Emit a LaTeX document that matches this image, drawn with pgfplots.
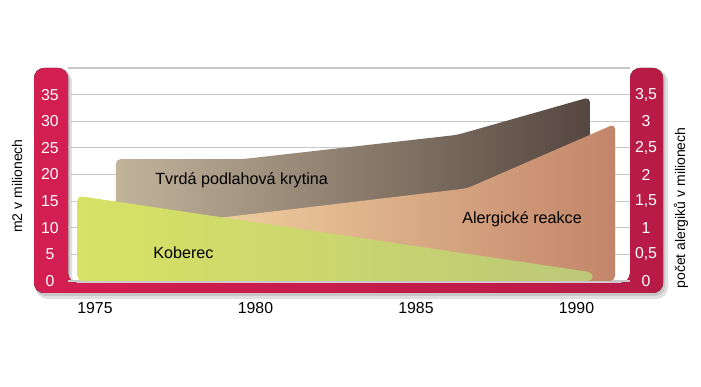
\documentclass[border=0pt]{standalone}
\usepackage{pgfplots}
\pgfplotsset{compat=1.18}
\usepackage{pgfplotstable}
\usepackage{fontspec}
\setmainfont{Liberation Sans}
\definecolor{crimL}{HTML}{D31E51}
\definecolor{crimR}{HTML}{B71B45}
\definecolor{brL}{HTML}{C2B39B}
\definecolor{brR}{HTML}{554740}
\definecolor{peL}{HTML}{FAE2AC}
\definecolor{peR}{HTML}{C3856A}
\definecolor{grL}{HTML}{D7E364}
\definecolor{grR}{HTML}{BCC878}

% Tvrda podlahova krytina (m2 in millions)
\pgfplotstableread{
year val
1975.65 0
1975.65 22.9
1979.61 22.9
1986.28 27.44
1990.42 34.53
1990.42 0
}\brown
% Alergicke reakce (millions of allergics)
\pgfplotstableread{
year val
1975.5 0
1975.5 0.94
1979.21 1.21
1986.59 1.74
1991.20 2.95
1991.20 0
}\peach
% Koberec (m2 in millions)
\pgfplotstableread{
year val
1974.45 0
1974.45 16.0
1990.51 1.6
1990.51 0
}\green

\pgfplotsset{base/.style={
  at={(40.8pt,-168.6pt)}, anchor=south west,
  width=337.2pt, height=127.8pt, scale only axis,
  xmin=1974.159, xmax=1991.667,
  axis line style={draw=none}, tick style={draw=none},
  clip=false}}

\begin{document}
\begin{tikzpicture}
\begin{scope}[x=0.6pt,y=-0.6pt]
\useasboundingbox (0,0) rectangle (701,387);
\fill[black!12, rounded corners=7] (36,70) -- (36,299) -- (668,299) -- (668,70) -- (633,70) -- (633,287) -- (72,287) -- (72,70) -- cycle;
\fill[black!22, rounded corners=6] (35,69) -- (35,296) -- (665,296) -- (665,69) -- (631,69) -- (631,285) -- (70,285) -- (70,69) -- cycle;
\fill[left color=crimL, right color=crimR, rounded corners=6] (34,68) -- (34,293) -- (663,293) -- (663,68) -- (630,68) -- (630,283) -- (68,283) -- (68,68) -- cycle;
\node[rotate=90, font=\fontsize{8.4}{10}\selectfont] at (17,186) {m2 v milionech};
\node[rotate=90, font=\fontsize{8.4}{10}\selectfont] at (681,208) {počet alergiků v milionech};
\end{scope}

\begin{axis}[base, ymin=0, ymax=40,
  ymajorgrids, grid style={black!22, line width=0.7pt},
  ytick={0,5,...,40}, yticklabels={0,5,10,15,20,25,30,35,{}},
  yticklabel style={anchor=center, xshift=-10.8pt, text=white, font=\fontsize{9.5}{11}\selectfont},
  xtick={1975,1980,1985,1990}, xticklabels={1975,1980,1985,1990},
  xticklabel style={anchor=center, yshift=-16.5pt, font=\fontsize{9.5}{11}\selectfont}]
\addplot[draw=none, left color=brL, right color=brR, rounded corners=3pt] table[x=year,y=val] {\brown} -- cycle;
\end{axis}

\begin{axis}[base, ymin=0, ymax=4, xtick=\empty,
  ytick={0,0.5,...,3.5}, yticklabels={0,{0,5},1,{1,5},2,{2,5},3,{3,5}},
  yticklabel pos=right,
  yticklabel style={anchor=center, xshift=9.6pt, text=white, font=\fontsize{9.5}{11}\selectfont}]
\addplot[draw=none, left color=peL, right color=peR, rounded corners=3pt] table[x=year,y=val] {\peach} -- cycle;
\end{axis}

\begin{axis}[base, ymin=0, ymax=40, xtick=\empty, ytick=\empty]
\addplot[draw=none, left color=grL, right color=grR, rounded corners=3pt] table[x=year,y=val] {\green} -- cycle;
\end{axis}

\begin{scope}[x=0.6pt,y=-0.6pt]
\node[anchor=west, inner sep=0, font=\fontsize{9.7}{11}\selectfont] at (155,180) {Tvrdá podlahová krytina};
\node[anchor=west, inner sep=0, font=\fontsize{9.7}{11}\selectfont] at (462,219) {Alergické reakce};
\node[anchor=west, inner sep=0, font=\fontsize{9.7}{11}\selectfont] at (153,253) {Koberec};
\end{scope}
\end{tikzpicture}
\end{document}
